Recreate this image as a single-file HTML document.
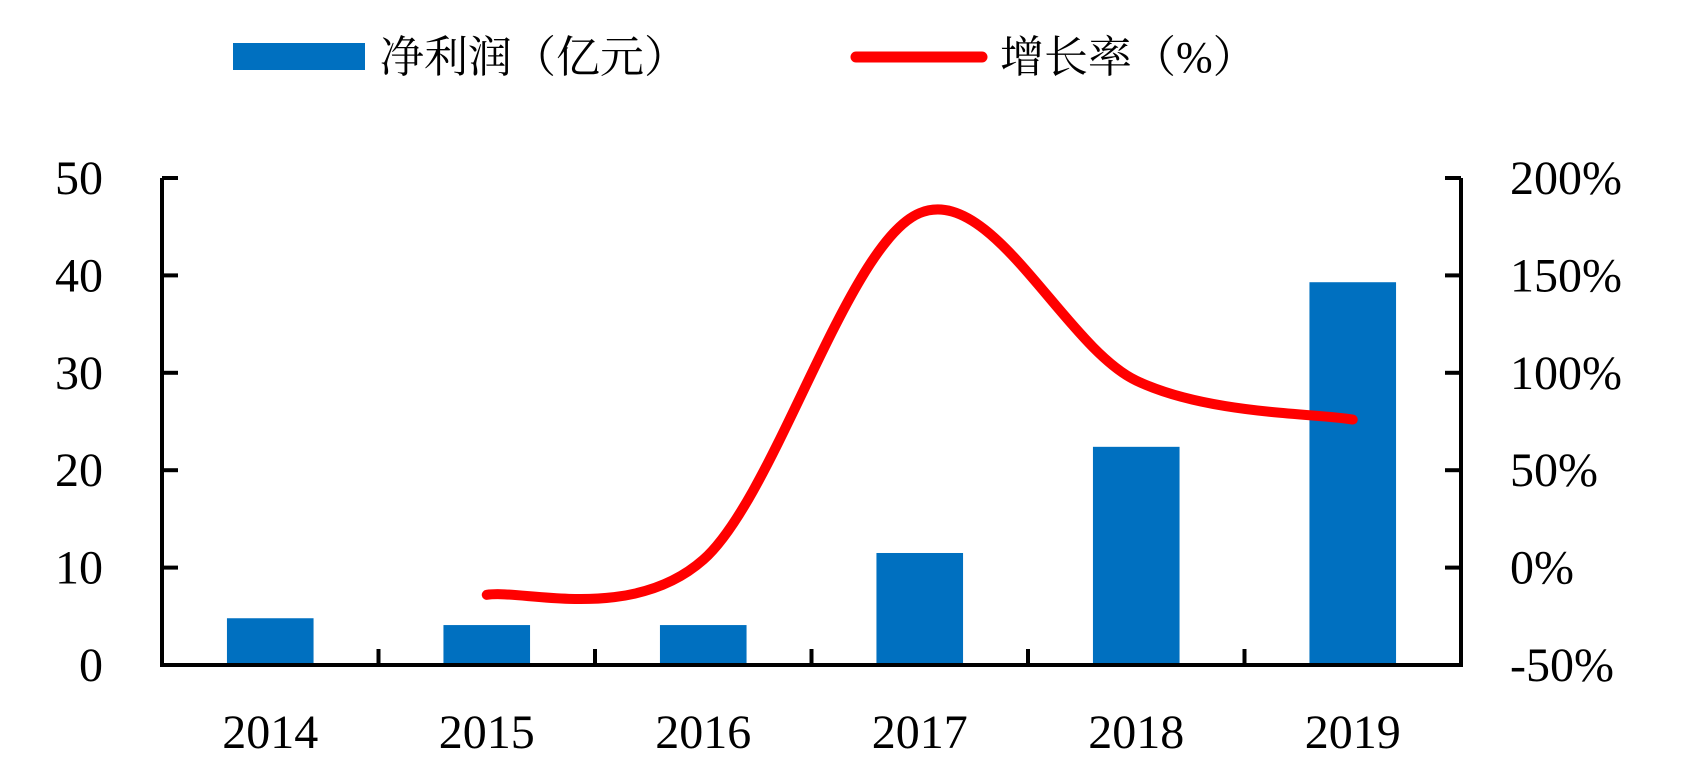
<!DOCTYPE html>
<html><head><meta charset="utf-8"><style>
body{margin:0;background:#fff;}
svg text{font-family:"Liberation Serif","Noto Serif CJK SC",serif;fill:#000;}
</style></head><body>
<svg width="1692" height="779" viewBox="0 0 1692 779" xmlns="http://www.w3.org/2000/svg">
<g id="legend">
  <rect x="233" y="43" width="132" height="27" fill="#0070C0"/>
  <text x="380" y="72" font-size="44">净利润（亿元）</text>
  <line x1="856" y1="57" x2="982" y2="57" stroke="#FF0000" stroke-width="11" stroke-linecap="round"/>
  <text x="1000" y="72" font-size="44">增长率（%）</text>
</g>
<g id="plot"></g>
</svg>
<script>
const categories=["2014","2015","2016","2017","2018","2019"];
const profitValues=[4.8,4.1,4.1,11.5,22.4,39.3];
const growthValues=[null,-14,4,182,96,76];
const leftTicks=[0,10,20,30,40,50];
const rightTicks=[-50,0,50,100,150,200];
const rightTickLabels=["-50%","0%","50%","100%","150%","200%"];

const NS="http://www.w3.org/2000/svg";
const X0=162,X1=1461,Y0=665,Y1=178;
const band=(X1-X0)/categories.length;
const xC=i=>X0+band*(i+0.5);
const yL=v=>Y0-(v-0)/(50-0)*(Y0-Y1);
const yR=v=>Y0-(v+50)/(250)*(Y0-Y1);
const g=document.getElementById('plot');
function mk(t,a){const e=document.createElementNS(NS,t);for(const k in a)e.setAttribute(k,a[k]);g.appendChild(e);return e;}

profitValues.forEach((v,i)=>{
  const bw=band*0.4;
  const r=mk('rect',{x:xC(i)-bw/2,y:yL(v),width:bw,height:Y0-yL(v),fill:'#0070C0'});
  
  
});

// smooth line (Catmull-Rom)
const pts=[];growthValues.forEach((v,i)=>{if(v!==null)pts.push([xC(i),yR(v)]);});
let d='M'+pts[0][0]+','+pts[0][1];
for(let i=0;i<pts.length-1;i++){
  const p0=pts[Math.max(0,i-1)],p1=pts[i],p2=pts[i+1],p3=pts[Math.min(pts.length-1,i+2)];
  const t=1/6;
  const c1=[p1[0]+(p2[0]-p0[0])*t,p1[1]+(p2[1]-p0[1])*t];
  const c2=[p2[0]-(p3[0]-p1[0])*t,p2[1]-(p3[1]-p1[1])*t];
  d+=' C'+c1+' '+c2+' '+p2;
}
const ln=mk('path',{d:d,fill:'none',stroke:'#FF0000','stroke-width':10,'stroke-linecap':'round','stroke-linejoin':'round'});



// axes
const ax=mk('path',{d:`M${X0},${Y1} V${Y0} H${X1} V${Y1}`,fill:'none',stroke:'#000','stroke-width':4});


leftTicks.forEach(v=>{
  const y=yL(v);
  mk('line',{x1:X0,y1:y,x2:X0+16,y2:y,stroke:'#000','stroke-width':4});
  const t=mk('text',{x:103,y:y+16,'font-size':48,'text-anchor':'end'});t.textContent=v;
  
  
});
rightTicks.forEach((v,i)=>{
  const y=yR(v);
  mk('line',{x1:X1-16,y1:y,x2:X1,y2:y,stroke:'#000','stroke-width':4});
  const t=mk('text',{x:1510,y:y+16,'font-size':48});t.textContent=rightTickLabels[i];
  
  
});
for(let i=1;i<categories.length;i++){
  const x=X0+band*i;
  mk('line',{x1:x,y1:Y0,x2:x,y2:Y0-16,stroke:'#000','stroke-width':4});
}
categories.forEach((c,i)=>{
  const t=mk('text',{x:xC(i),y:748,'font-size':48,'text-anchor':'middle'});t.textContent=c;
  
  
});
</script>
</body></html>
